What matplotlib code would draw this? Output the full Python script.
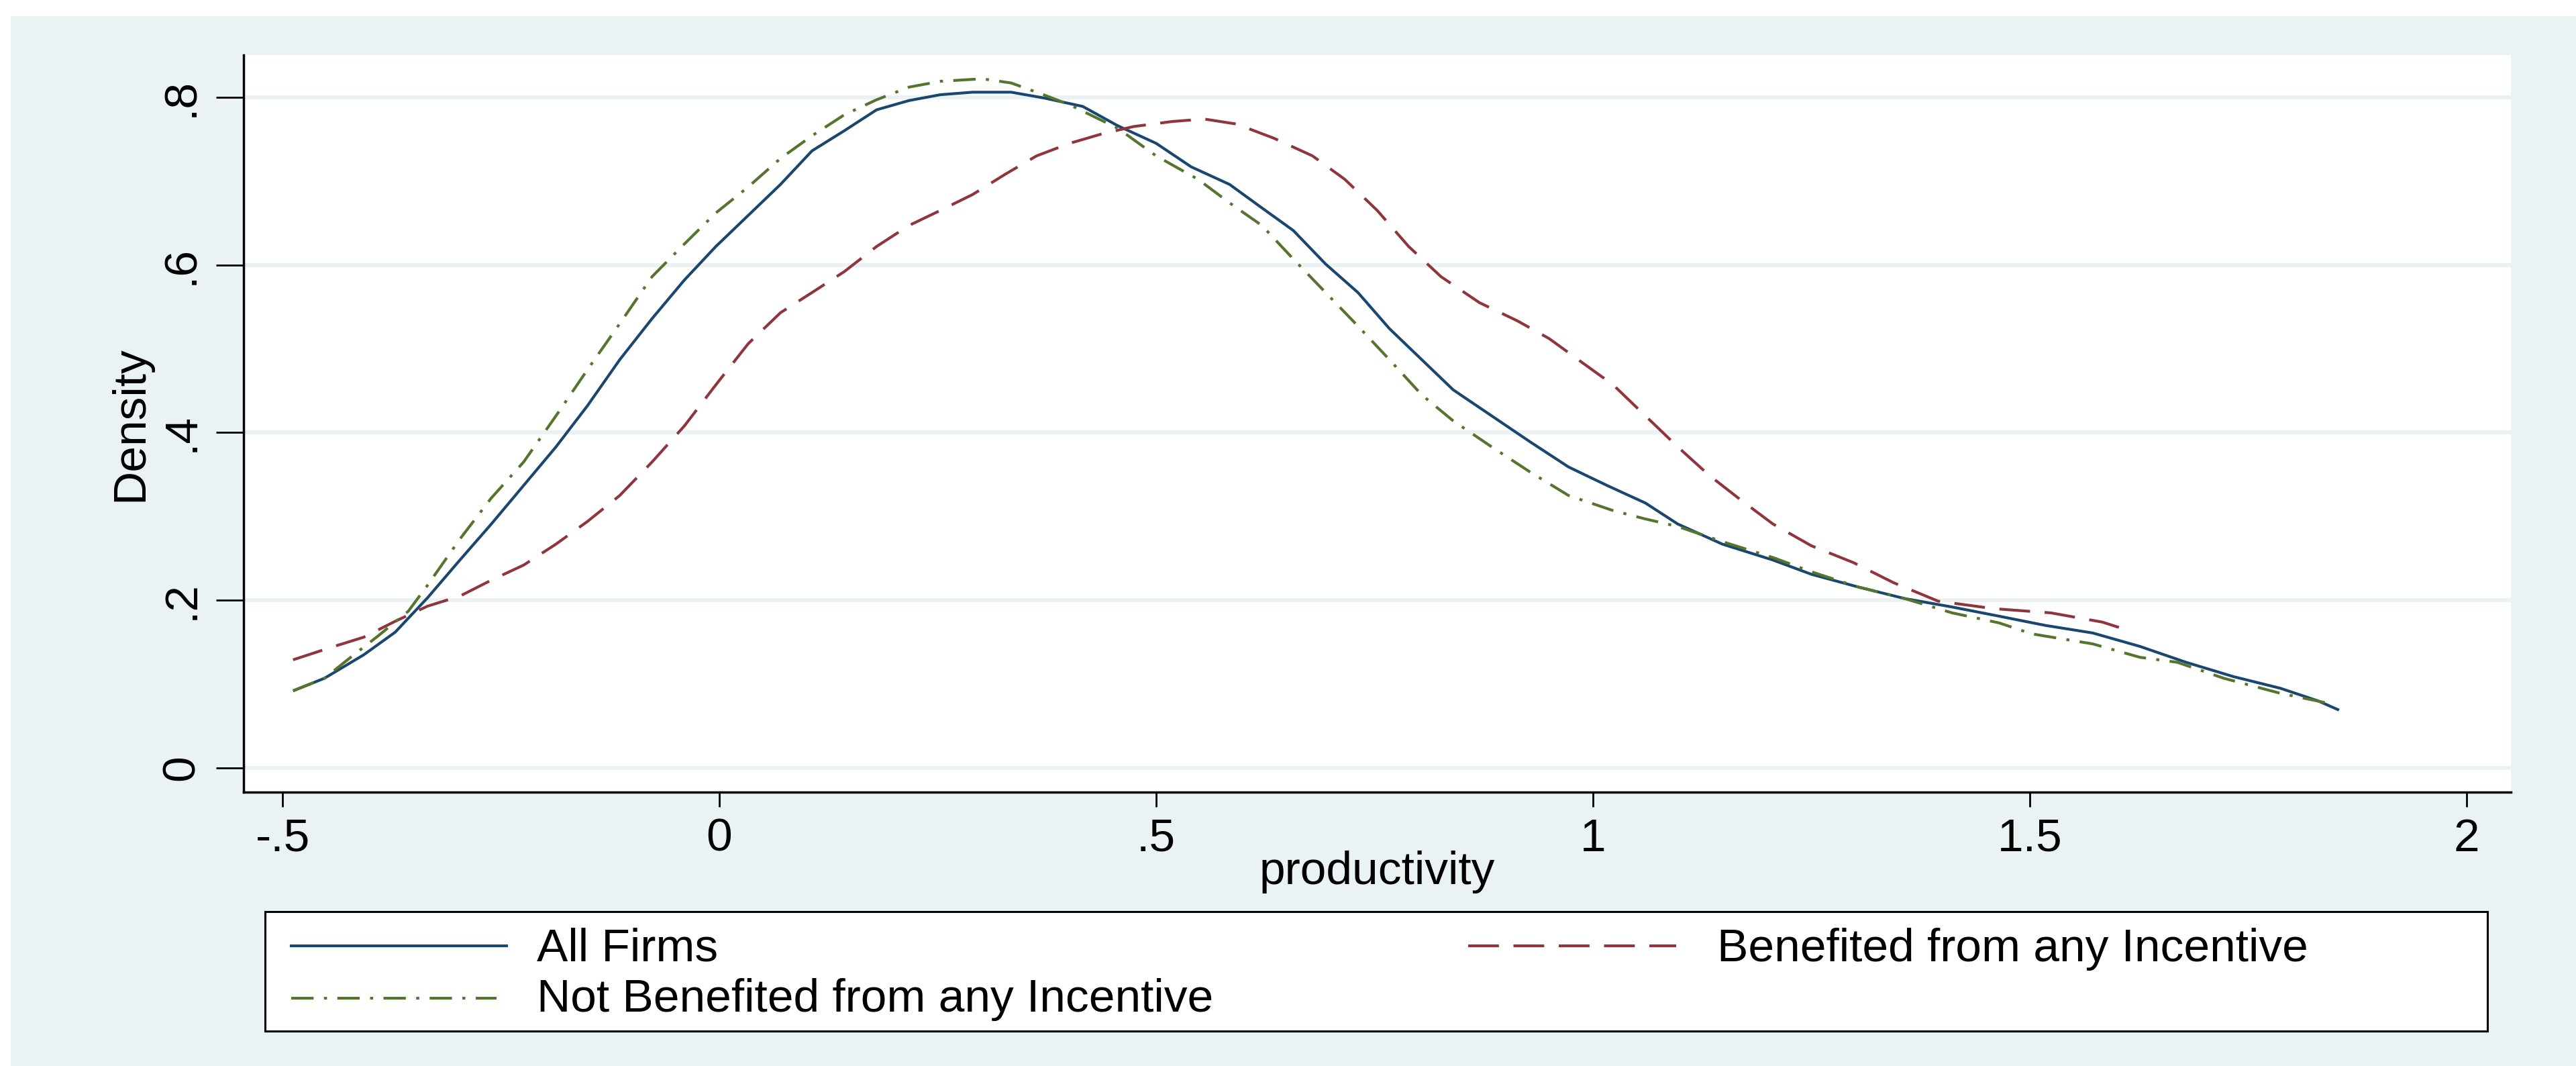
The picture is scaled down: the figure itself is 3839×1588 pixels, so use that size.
import matplotlib
matplotlib.use("Agg")
import matplotlib.pyplot as plt
from matplotlib.lines import Line2D
from matplotlib.patches import Rectangle

# ---------------- data ----------------
all_x = [-0.488, -0.452, -0.407, -0.371, -0.334, -0.297, -0.261, -0.224, -0.187, -0.151,
         -0.114, -0.077, -0.040, -0.004, 0.033, 0.070, 0.106, 0.143, 0.180, 0.217,
         0.253, 0.290, 0.334, 0.372, 0.416, 0.456, 0.500, 0.540, 0.584, 0.621,
         0.657, 0.694, 0.731, 0.767, 0.804, 0.840, 0.884, 0.928, 0.972, 1.016,
         1.060, 1.097, 1.148, 1.206, 1.250, 1.303, 1.357, 1.411, 1.465, 1.518,
         1.572, 1.626, 1.679, 1.733, 1.787, 1.830, 1.854]
all_y = [0.092, 0.107, 0.135, 0.162, 0.203, 0.248, 0.291, 0.337, 0.383, 0.432,
         0.487, 0.536, 0.582, 0.622, 0.659, 0.696, 0.736, 0.760, 0.785, 0.796,
         0.803, 0.806, 0.806, 0.799, 0.789, 0.766, 0.745, 0.717, 0.696, 0.668,
         0.641, 0.601, 0.567, 0.524, 0.487, 0.451, 0.420, 0.389, 0.359, 0.337,
         0.316, 0.291, 0.267, 0.248, 0.231, 0.216, 0.202, 0.192, 0.181, 0.170,
         0.161, 0.145, 0.126, 0.109, 0.095, 0.080, 0.069]

ben_x = [-0.488, -0.444, -0.407, -0.371, -0.334, -0.297, -0.261, -0.224, -0.187, -0.151,
         -0.114, -0.077, -0.040, -0.004, 0.033, 0.070, 0.106, 0.143, 0.180, 0.217,
         0.253, 0.290, 0.327, 0.363, 0.401, 0.437, 0.474, 0.518, 0.555, 0.592,
         0.635, 0.679, 0.716, 0.753, 0.789, 0.826, 0.870, 0.914, 0.950, 0.987,
         1.023, 1.060, 1.097, 1.133, 1.170, 1.206, 1.250, 1.298, 1.344, 1.395,
         1.459, 1.524, 1.583, 1.607]
ben_y = [0.129, 0.144, 0.156, 0.175, 0.193, 0.205, 0.224, 0.242, 0.267, 0.294,
         0.325, 0.365, 0.408, 0.457, 0.506, 0.543, 0.567, 0.592, 0.622, 0.647,
         0.665, 0.684, 0.708, 0.730, 0.745, 0.756, 0.765, 0.771, 0.774, 0.768,
         0.751, 0.730, 0.702, 0.665, 0.622, 0.586, 0.555, 0.533, 0.512, 0.484,
         0.457, 0.420, 0.383, 0.349, 0.319, 0.291, 0.265, 0.245, 0.221, 0.199,
         0.190, 0.185, 0.174, 0.166]

not_x = [-0.488, -0.452, -0.422, -0.390, -0.356, -0.334, -0.297, -0.261, -0.224, -0.187,
         -0.151, -0.114, -0.077, -0.040, -0.004, 0.033, 0.070, 0.106, 0.143, 0.180,
         0.217, 0.253, 0.301, 0.334, 0.371, 0.401, 0.456, 0.500, 0.548, 0.584,
         0.621, 0.657, 0.694, 0.731, 0.767, 0.804, 0.840, 0.884, 0.928, 0.972,
         1.023, 1.060, 1.097, 1.148, 1.206, 1.250, 1.303, 1.357, 1.411, 1.465,
         1.502, 1.572, 1.626, 1.669, 1.722, 1.787, 1.838]
not_y = [0.092, 0.107, 0.132, 0.158, 0.187, 0.218, 0.273, 0.322, 0.365, 0.420,
         0.475, 0.530, 0.586, 0.625, 0.662, 0.693, 0.727, 0.754, 0.779, 0.797,
         0.812, 0.819, 0.822, 0.817, 0.803, 0.791, 0.763, 0.730, 0.702, 0.674,
         0.647, 0.607, 0.567, 0.527, 0.487, 0.445, 0.414, 0.383, 0.353, 0.325,
         0.307, 0.297, 0.288, 0.270, 0.251, 0.234, 0.216, 0.202, 0.185, 0.173,
         0.160, 0.148, 0.132, 0.126, 0.107, 0.089, 0.078]

series_labels = ["All Firms", "Benefited from any Incentive", "Not Benefited from any Incentive"]
x_ticks = [-0.5, 0, 0.5, 1, 1.5, 2]
x_tick_labels = ["-.5", "0", ".5", "1", "1.5", "2"]
y_ticks = [0, 0.2, 0.4, 0.6, 0.8]
y_tick_labels = ["0", ".2", ".4", ".6", ".8"]

# ---------------- style ----------------
BG = "#EAF2F3"
C_ALL = "#1A476F"
C_BEN = "#90353B"
C_NOT = "#55752F"
FONT = "Liberation Sans"
FS = 50
LW = 3.0
LS_BEN = (0, (11, 5.2))
LS_NOT = (0, (8, 3.7, 1.1, 3.7))

W, H = 3839, 1588
plt.rcParams["font.family"] = [FONT, "DejaVu Sans"]
fig = plt.figure(figsize=(W / 100, H / 100), dpi=100, facecolor="white")

# light-blue graph region
fig.add_artist(Rectangle((16 / W, 0), 1 - 16 / W, (H - 24) / H, transform=fig.transFigure,
                         facecolor=BG, edgecolor="none", zorder=0))

L, R, T, B = 363, 3742, 82, 1180
ax = fig.add_axes([L / W, 1 - B / H, (R - L) / W, (B - T) / H])
ax.set_facecolor("white")

ax.plot(all_x, all_y, color=C_ALL, lw=LW, solid_capstyle="butt", zorder=3)
ax.plot(ben_x, ben_y, color=C_BEN, lw=LW, linestyle=LS_BEN, dash_capstyle="butt", zorder=4)
ax.plot(not_x, not_y, color=C_NOT, lw=LW, linestyle=LS_NOT, dash_capstyle="butt", zorder=5)

ax.set_xlim(-0.5446, 2.0507)
ax.set_ylim(-0.0288, 0.8503)

ax.set_xticks(x_ticks)
ax.set_xticklabels(x_tick_labels, fontsize=FS)
ax.set_yticks(y_ticks)
ax.set_yticklabels(y_tick_labels, fontsize=FS, rotation=90, va="center")
ax.tick_params(axis="x", length=16, width=2, pad=11, direction="out", colors="black")
ax.tick_params(axis="y", length=29.5, width=2, pad=14, direction="out", colors="black")

ax.grid(axis="y", color=BG, lw=4.3, zorder=1)
ax.set_axisbelow(True)

for s in ("top", "right"):
    ax.spines[s].set_visible(False)
for s in ("left", "bottom"):
    ax.spines[s].set_linewidth(2.5)
    ax.spines[s].set_color("black")

ax.set_xlabel("productivity", fontsize=FS)
ax.xaxis.label.set_va("baseline")
ax.xaxis.set_label_coords(0.5, (B - 1317) / (B - T))
ax.set_ylabel("Density", fontsize=FS)
ax.yaxis.label.set_va("baseline")
ax.yaxis.set_label_coords((212 - L) / (R - L), 0.5)

# ---------------- legend ----------------
fig.add_artist(Rectangle((395 / W, 1 - 1536 / H), (3707 - 395) / W, (1536 - 1358) / H,
                         transform=fig.transFigure, facecolor="white", edgecolor="black",
                         lw=2.2, zorder=2))
entries = [
    (series_labels[0], C_ALL, "-", 434, 755, 1409, 800, 1432),
    (series_labels[1], C_BEN, LS_BEN, 2188, 2498, 1409, 2559, 1432),
    (series_labels[2], C_NOT, LS_NOT, 434, 740, 1487, 800, 1507),
]
for lab, col, ls, x0, x1, yl, xt, yb in entries:
    fig.add_artist(Line2D([x0 / W, x1 / W], [1 - yl / H, 1 - yl / H], transform=fig.transFigure,
                          color=col, lw=LW, linestyle=ls, dash_capstyle="butt", zorder=3))
    fig.text(xt / W, 1 - yb / H, lab, fontsize=FS, ha="left", va="baseline", zorder=4)

fig.savefig("out.png", dpi=100, facecolor="white")
